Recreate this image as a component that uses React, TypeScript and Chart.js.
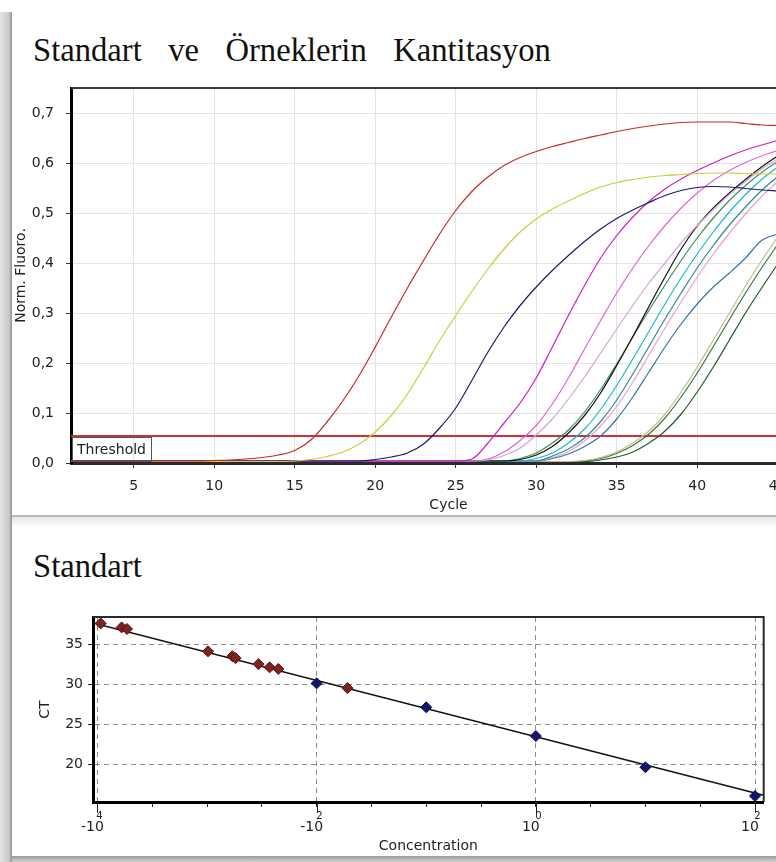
import React, { useEffect, useRef } from 'react';
import { Chart, registerables } from 'chart.js';

Chart.register(...registerables);

const FONT = "'DejaVu Sans', 'Liberation Sans', sans-serif";
const SERIF = "'Liberation Serif', 'DejaVu Serif', serif";

// ---------------- Amplification plot data ----------------
const cycles = [
  1, 2, 3, 4, 5, 6, 7, 8, 9, 10,
  11, 12, 13, 14, 15, 16, 17, 18, 19, 20,
  21, 22, 23, 24, 25, 26, 27, 28, 29, 30,
  31, 32, 33, 34, 35, 36, 37, 38, 39, 40,
  41, 42, 43, 44, 45,
];

const curveRed = [
  0.004, 0.004, 0.004, 0.004, 0.004, 0.004, 0.004, 0.004, 0.004, 0.005,
  0.006, 0.008, 0.011, 0.016, 0.025, 0.046, 0.082, 0.125, 0.175, 0.232,
  0.292, 0.35, 0.405, 0.458, 0.505, 0.543, 0.572, 0.595, 0.611, 0.623,
  0.633, 0.641, 0.649, 0.656, 0.663, 0.669, 0.674, 0.678, 0.681, 0.682,
  0.682, 0.682, 0.679, 0.676, 0.675,
];
const curveYellow = [
  0.003, 0.003, 0.003, 0.003, 0.003, 0.003, 0.003, 0.003, 0.003, 0.003,
  0.003, 0.003, 0.003, 0.003, 0.004, 0.007, 0.013, 0.022, 0.038, 0.062,
  0.095, 0.138, 0.19, 0.245, 0.295, 0.343, 0.388, 0.428, 0.462, 0.488,
  0.508, 0.524, 0.539, 0.552, 0.561, 0.567, 0.572, 0.575, 0.577, 0.579,
  0.58, 0.58, 0.579, 0.578, 0.578,
];
const curveNavy = [
  0.004, 0.004, 0.004, 0.004, 0.004, 0.004, 0.004, 0.004, 0.004, 0.004,
  0.004, 0.004, 0.004, 0.004, 0.004, 0.004, 0.004, 0.004, 0.004, 0.007,
  0.012, 0.02, 0.038, 0.07, 0.11, 0.165, 0.222, 0.272, 0.315, 0.352,
  0.385, 0.415, 0.443, 0.468, 0.489, 0.506, 0.521, 0.535, 0.545, 0.551,
  0.553, 0.552, 0.549, 0.546, 0.544,
];
const curveMagenta = [
  0.004, 0.004, 0.004, 0.004, 0.004, 0.004, 0.004, 0.004, 0.004, 0.004,
  0.004, 0.004, 0.004, 0.004, 0.004, 0.004, 0.004, 0.004, 0.004, 0.004,
  0.004, 0.004, 0.004, 0.004, 0.004, 0.008, 0.04, 0.08, 0.12, 0.17,
  0.232, 0.295, 0.355, 0.41, 0.455, 0.492, 0.523, 0.548, 0.568, 0.585,
  0.6, 0.614, 0.626, 0.636, 0.645,
];
const curvePink = [
  0.004, 0.004, 0.004, 0.004, 0.004, 0.004, 0.004, 0.004, 0.004, 0.004,
  0.004, 0.004, 0.004, 0.004, 0.004, 0.004, 0.004, 0.004, 0.004, 0.004,
  0.004, 0.004, 0.004, 0.004, 0.004, 0.004, 0.008, 0.022, 0.045, 0.075,
  0.118, 0.17, 0.228, 0.285, 0.34, 0.39, 0.435, 0.475, 0.51, 0.54,
  0.565, 0.585, 0.601, 0.614, 0.625,
];
const curveOrchid = [
  0.004, 0.004, 0.004, 0.004, 0.004, 0.004, 0.004, 0.004, 0.004, 0.004,
  0.004, 0.004, 0.004, 0.004, 0.004, 0.004, 0.004, 0.004, 0.004, 0.004,
  0.004, 0.004, 0.004, 0.004, 0.004, 0.004, 0.006, 0.015, 0.03, 0.056,
  0.088, 0.128, 0.172, 0.22, 0.268, 0.315, 0.36, 0.4, 0.44, 0.475,
  0.507, 0.537, 0.563, 0.588, 0.608,
];
const curveBlack = [
  0.004, 0.004, 0.004, 0.004, 0.004, 0.004, 0.004, 0.004, 0.004, 0.004,
  0.004, 0.004, 0.004, 0.004, 0.004, 0.004, 0.004, 0.004, 0.004, 0.004,
  0.004, 0.004, 0.004, 0.004, 0.004, 0.004, 0.004, 0.004, 0.007, 0.016,
  0.033, 0.06, 0.095, 0.14, 0.195, 0.253, 0.313, 0.372, 0.428, 0.474,
  0.51, 0.54, 0.567, 0.592, 0.614,
];
const curveGreen = [
  0.004, 0.004, 0.004, 0.004, 0.004, 0.004, 0.004, 0.004, 0.004, 0.004,
  0.004, 0.004, 0.004, 0.004, 0.004, 0.004, 0.004, 0.004, 0.004, 0.004,
  0.004, 0.004, 0.004, 0.004, 0.004, 0.004, 0.004, 0.004, 0.009, 0.02,
  0.04, 0.066, 0.102, 0.147, 0.198, 0.252, 0.305, 0.356, 0.405, 0.45,
  0.49, 0.525, 0.555, 0.581, 0.603,
];
const curveCyan = [
  0.004, 0.004, 0.004, 0.004, 0.004, 0.004, 0.004, 0.004, 0.004, 0.004,
  0.004, 0.004, 0.004, 0.004, 0.004, 0.004, 0.004, 0.004, 0.004, 0.004,
  0.004, 0.004, 0.004, 0.004, 0.004, 0.004, 0.004, 0.004, 0.004, 0.009,
  0.02, 0.04, 0.068, 0.107, 0.155, 0.208, 0.263, 0.318, 0.37, 0.418,
  0.462, 0.502, 0.537, 0.567, 0.592,
];
const curveTeal = [
  0.004, 0.004, 0.004, 0.004, 0.004, 0.004, 0.004, 0.004, 0.004, 0.004,
  0.004, 0.004, 0.004, 0.004, 0.004, 0.004, 0.004, 0.004, 0.004, 0.004,
  0.004, 0.004, 0.004, 0.004, 0.004, 0.004, 0.004, 0.004, 0.004, 0.004,
  0.014, 0.028, 0.05, 0.083, 0.126, 0.178, 0.233, 0.288, 0.34, 0.39,
  0.435, 0.476, 0.512, 0.545, 0.573,
];
const curveRose = [
  0.004, 0.004, 0.004, 0.004, 0.004, 0.004, 0.004, 0.004, 0.004, 0.004,
  0.004, 0.004, 0.004, 0.004, 0.004, 0.004, 0.004, 0.004, 0.004, 0.004,
  0.004, 0.004, 0.004, 0.004, 0.004, 0.004, 0.004, 0.004, 0.004, 0.004,
  0.011, 0.023, 0.044, 0.074, 0.113, 0.162, 0.216, 0.27, 0.322, 0.372,
  0.418, 0.46, 0.498, 0.533, 0.563,
];
const curveSteel = [
  0.004, 0.004, 0.004, 0.004, 0.004, 0.004, 0.004, 0.004, 0.004, 0.004,
  0.004, 0.004, 0.004, 0.004, 0.004, 0.004, 0.004, 0.004, 0.004, 0.004,
  0.004, 0.004, 0.004, 0.004, 0.004, 0.004, 0.004, 0.004, 0.004, 0.004,
  0.009, 0.018, 0.033, 0.054, 0.088, 0.132, 0.182, 0.232, 0.278, 0.318,
  0.352, 0.38, 0.41, 0.445, 0.458,
];
const curveTan = [
  0.003, 0.003, 0.003, 0.003, 0.003, 0.003, 0.003, 0.003, 0.003, 0.003,
  0.003, 0.003, 0.003, 0.003, 0.003, 0.003, 0.003, 0.003, 0.003, 0.003,
  0.003, 0.003, 0.003, 0.003, 0.003, 0.003, 0.003, 0.003, 0.003, 0.003,
  0.003, 0.003, 0.005, 0.011, 0.022, 0.04, 0.064, 0.098, 0.142, 0.192,
  0.246, 0.3, 0.354, 0.405, 0.452,
];
const curveGreen2 = [
  0.003, 0.003, 0.003, 0.003, 0.003, 0.003, 0.003, 0.003, 0.003, 0.003,
  0.003, 0.003, 0.003, 0.003, 0.003, 0.003, 0.003, 0.003, 0.003, 0.003,
  0.003, 0.003, 0.003, 0.003, 0.003, 0.003, 0.003, 0.003, 0.003, 0.003,
  0.003, 0.003, 0.004, 0.009, 0.019, 0.035, 0.058, 0.09, 0.132, 0.18,
  0.233, 0.287, 0.34, 0.39, 0.437,
];
const curveDarkGreen = [
  0.003, 0.003, 0.003, 0.003, 0.003, 0.003, 0.003, 0.003, 0.003, 0.003,
  0.003, 0.003, 0.003, 0.003, 0.003, 0.003, 0.003, 0.003, 0.003, 0.003,
  0.003, 0.003, 0.003, 0.003, 0.003, 0.003, 0.003, 0.003, 0.003, 0.003,
  0.003, 0.003, 0.003, 0.006, 0.012, 0.022, 0.04, 0.064, 0.098, 0.142,
  0.192, 0.246, 0.3, 0.35, 0.398,
];

const curves = [
  curveRed, curveYellow, curveNavy, curveMagenta, curvePink, curveOrchid,
  curveBlack, curveGreen, curveCyan, curveTeal, curveRose, curveSteel,
  curveTan, curveGreen2, curveDarkGreen,
];
const curveColors = [
  '#c42a2a', '#cccc3c', '#1c1c6c', '#d01ec0', '#e064d2', '#d6a2d8',
  '#111111', '#3f8f5c', '#20b8c8', '#2a8c9a', '#e8a2c4', '#3c72a3',
  '#c9b98f', '#2f7d42', '#1f5c30',
];

const thresholdValue = 0.054;
const cycleMin = 1.1;
const cycleMax = 48;
const fluoroMin = 0;
const fluoroMax = 0.75;
const cycleTicks = [5, 10, 15, 20, 25, 30, 35, 40, 45];
const fluoroTicks = [0, 0.1, 0.2, 0.3, 0.4, 0.5, 0.6, 0.7];

// ---------------- Standard curve data ----------------
const standardConc = [0.01, 0.1, 1, 10, 100];
const standardCT = [30.1, 27.1, 23.5, 19.6, 16.0];
const sampleConc = [1.07e-4, 1.66e-4, 1.86e-4, 1.02e-3, 1.7e-3, 1.82e-3, 2.95e-3, 3.72e-3, 4.47e-3, 1.91e-2];
const sampleCT = [37.6, 37.1, 36.9, 34.1, 33.5, 33.25, 32.5, 32.1, 31.9, 29.5];
const fitConc = [9.1e-5, 120];
const fitCT = [37.65, 16.1];
const concMin = 9.1e-5;
const concMax = 120;
const ctMin = 15.25;
const ctMax = 38.4;
const ctTicks = [20, 25, 30, 35];
const concTickExps = [-4, -3.5, -3, -2.5, -2, -1.5, -1, -0.5, 0, 0.5, 1, 1.5, 2];
const concLabelExps = [-4, -2, 0, 2];
const concLabelText = ['-10', '-10', '10', '10'];
const concLabelSup = ['4', '2', '0', '2'];

const expOf = (v: number) => Math.round(Math.log10(v) * 2) / 2;

function AmplificationChart() {
  const ref = useRef<HTMLCanvasElement>(null);
  useEffect(() => {
    const canvas = ref.current;
    if (!canvas) return;
    const framePlugin = {
      id: 'ampFrame',
      afterDatasetsDraw(chart: any) {
        const { ctx, chartArea: a, scales } = chart;
        const ty = scales.y.getPixelForValue(thresholdValue);
        ctx.save();
        ctx.font = `14px ${FONT}`;
        const tw = ctx.measureText('Threshold').width;
        ctx.strokeStyle = '#555';
        ctx.lineWidth = 1;
        ctx.strokeRect(Math.round(a.left) + 1.5, Math.round(ty) + 1.5, Math.round(tw) + 10, Math.round(a.bottom - ty) - 3);
        ctx.fillStyle = '#222';
        ctx.textBaseline = 'middle';
        ctx.textAlign = 'left';
        ctx.fillText('Threshold', a.left + 6, (ty + a.bottom) / 2 + 1);
        ctx.restore();
      },
      afterDraw(chart: any) {
        const { ctx, chartArea: a } = chart;
        ctx.save();
        ctx.strokeStyle = '#3a3a3a';
        ctx.lineWidth = 2;
        ctx.beginPath();
        ctx.moveTo(a.left, a.top);
        ctx.lineTo(a.right, a.top);
        ctx.stroke();
        ctx.restore();
      },
    };

    const datasets: any[] = curves.map((vals, i) => ({
      data: cycles.map((c, j) => ({ x: c, y: vals[j] })),
      borderColor: curveColors[i],
      borderWidth: 1.2,
      pointRadius: 0,
      cubicInterpolationMode: 'monotone',
      fill: false,
    }));
    datasets.push({
      data: [
        { x: cycleMin, y: thresholdValue },
        { x: cycleMax, y: thresholdValue },
      ],
      borderColor: '#c83434',
      borderWidth: 2,
      pointRadius: 0,
      fill: false,
    });

    const chart = new Chart(canvas, {
      type: 'line',
      data: { datasets },
      options: {
        responsive: false,
        animation: false,
        layout: { padding: { top: 88, right: 14, left: 0, bottom: 0 } },
        plugins: { legend: { display: false }, tooltip: { enabled: false } },
        scales: {
          x: {
            type: 'linear',
            min: cycleMin,
            max: cycleMax,
            bounds: 'data',
            afterBuildTicks: (s: any) => {
              s.ticks = cycleTicks.map((v) => ({ value: v }));
            },
            afterFit: (s: any) => {
              s.height = 57;
            },
            grid: { color: '#e3e3e3', lineWidth: 1, tickColor: '#333', tickLength: 5 },
            border: { color: '#2a2a2a', width: 3 },
            ticks: {
              font: { family: FONT, size: 14 },
              color: '#222',
              padding: 10,
              maxRotation: 0,
              autoSkip: false,
              callback: (v: any) => String(v),
            },
            title: {
              display: true,
              text: 'Cycle',
              font: { family: FONT, size: 14 },
              color: '#222',
              padding: { top: 0, bottom: 6 },
            },
          },
          y: {
            type: 'linear',
            min: fluoroMin,
            max: fluoroMax,
            bounds: 'data',
            afterBuildTicks: (s: any) => {
              s.ticks = fluoroTicks.map((v) => ({ value: v }));
            },
            afterFit: (s: any) => {
              s.width = 71;
            },
            grid: { color: '#e3e3e3', lineWidth: 1, tickColor: '#333', tickLength: 5 },
            border: { color: '#000', width: 3 },
            ticks: {
              font: { family: FONT, size: 14 },
              color: '#222',
              padding: 12,
              callback: (v: any) => Number(v).toFixed(1).replace('.', ','),
            },
            title: {
              display: true,
              text: 'Norm. Fluoro.',
              font: { family: FONT, size: 14 },
              color: '#222',
              padding: { top: 13, bottom: 0 },
            },
          },
        },
      } as any,
      plugins: [framePlugin],
    });
    return () => chart.destroy();
  }, []);
  return (
    <canvas
      ref={ref}
      width={840}
      height={520}
      style={{ position: 'absolute', left: 0, top: 0, width: 840, height: 520 }}
    />
  );
}

function StandardChart() {
  const ref = useRef<HTMLCanvasElement>(null);
  useEffect(() => {
    const canvas = ref.current;
    if (!canvas) return;
    const stdPlugin = {
      id: 'stdFrame',
      afterDraw(chart: any) {
        const { ctx, chartArea: a, scales } = chart;
        ctx.save();
        ctx.strokeStyle = '#2a2a2a';
        ctx.lineWidth = 2;
        ctx.beginPath();
        ctx.moveTo(a.left, a.top);
        ctx.lineTo(a.right, a.top);
        ctx.lineTo(a.right, a.bottom);
        ctx.stroke();
        ctx.strokeStyle = '#222';
        ctx.lineWidth = 1;
        ctx.fillStyle = '#222';
        ctx.font = `10px ${FONT}`;
        ctx.textAlign = 'center';
        ctx.textBaseline = 'middle';
        concLabelExps.forEach((e, i) => {
          const x = Math.round(scales.x.getPixelForValue(Math.pow(10, e))) + 0.5;
          ctx.beginPath();
          ctx.moveTo(x, a.bottom);
          ctx.lineTo(x, a.bottom + 11);
          ctx.stroke();
          ctx.fillText(concLabelSup[i], x + 2, a.bottom + 14);
        });
        ctx.restore();
      },
    };

    const isLabelTick = (v: number) => concLabelExps.indexOf(expOf(v)) >= 0;

    const chart = new Chart(canvas, {
      type: 'scatter',
      data: {
        datasets: [
          {
            data: standardConc.map((c, i) => ({ x: c, y: standardCT[i] })),
            pointStyle: 'rectRot',
            pointRadius: 5.5,
            backgroundColor: '#15156e',
            borderColor: '#0b0b45',
            borderWidth: 1,
            showLine: false,
            order: 0,
            clip: false,
          },
          {
            data: sampleConc.map((c, i) => ({ x: c, y: sampleCT[i] })),
            pointStyle: 'rectRot',
            pointRadius: 5.5,
            backgroundColor: '#7e2222',
            borderColor: '#4d1010',
            borderWidth: 1,
            showLine: false,
            order: 1,
            clip: false,
          },
          {
            data: fitConc.map((c, i) => ({ x: c, y: fitCT[i] })),
            showLine: true,
            borderColor: '#111',
            borderWidth: 1.5,
            pointRadius: 0,
            order: 2,
          },
        ],
      },
      options: {
        responsive: false,
        animation: false,
        layout: { padding: { top: 17, right: 4, left: 0, bottom: 0 } },
        plugins: { legend: { display: false }, tooltip: { enabled: false } },
        scales: {
          x: {
            type: 'logarithmic',
            min: concMin,
            max: concMax,
            bounds: 'data',
            afterBuildTicks: (s: any) => {
              s.ticks = concTickExps.map((e) => ({ value: Math.pow(10, e) }));
            },
            afterFit: (s: any) => {
              s.height = 60;
            },
            grid: {
              color: (ctx: any) =>
                ctx.tick && isLabelTick(ctx.tick.value) ? '#8c8c8c' : 'rgba(0,0,0,0)',
              lineWidth: 1,
              tickColor: '#222',
              tickLength: 5,
            },
            border: { color: '#000', width: 3, dash: [5, 4] },
            ticks: {
              font: { family: FONT, size: 14 },
              color: '#222',
              padding: 12,
              labelOffset: -5,
              maxRotation: 0,
              autoSkip: false,
              callback: (v: any) => {
                const idx = concLabelExps.indexOf(expOf(Number(v)));
                return idx >= 0 ? concLabelText[idx] : '';
              },
            },
            title: {
              display: true,
              text: 'Concentration',
              font: { family: FONT, size: 14 },
              color: '#222',
              padding: { top: 0, bottom: 7 },
            },
          },
          y: {
            type: 'linear',
            min: ctMin,
            max: ctMax,
            bounds: 'data',
            afterBuildTicks: (s: any) => {
              s.ticks = ctTicks.map((v) => ({ value: v }));
            },
            afterFit: (s: any) => {
              s.width = 93;
            },
            grid: { color: '#8c8c8c', lineWidth: 1, tickColor: '#222', tickLength: 5 },
            border: { color: '#000', width: 3, dash: [5, 4] },
            ticks: {
              font: { family: FONT, size: 14 },
              color: '#222',
              padding: 5,
              callback: (v: any) => String(v),
            },
            title: {
              display: true,
              text: 'CT',
              font: { family: FONT, size: 14 },
              color: '#222',
              padding: { top: 37, bottom: 0 },
            },
          },
        },
      } as any,
      plugins: [stdPlugin],
    });
    return () => chart.destroy();
  }, []);
  return (
    <canvas
      ref={ref}
      width={776}
      height={262}
      style={{ position: 'absolute', left: 0, top: 600, width: 776, height: 262 }}
    />
  );
}

const titleStyle: React.CSSProperties = {
  position: 'absolute',
  left: 33,
  fontFamily: SERIF,
  fontSize: 34,
  lineHeight: '34px',
  whiteSpace: 'pre',
  wordSpacing: '19px',
  color: '#111',
  transform: 'scaleX(0.96)',
  transformOrigin: 'left top',
};

export default function App() {
  return (
    <div
      style={{
        position: 'fixed',
        left: 0,
        top: 0,
        width: 776,
        height: 862,
        overflow: 'hidden',
        background: '#ffffff',
      }}
    >
      <div style={{ position: 'absolute', left: 0, top: 12, width: 12, height: 850, background: 'linear-gradient(to right, #e4e4e4, #c9c9c9 75%, #8e8e8e)' }} />
      <div style={{ position: 'absolute', left: 12, top: 515, width: 764, height: 2, background: '#b8b8b8' }} />
      <div style={{ position: 'absolute', left: 12, top: 517, width: 764, height: 10, background: 'linear-gradient(#e6e6e6, #ffffff)' }} />
      <div style={{ position: 'absolute', left: 12, top: 856, width: 764, height: 6, background: 'linear-gradient(#9a9a9a, #d2d2d2)' }} />
      <div style={{ ...titleStyle, top: 33 }}>Standart ve Örneklerin Kantitasyon</div>
      <div style={{ ...titleStyle, top: 549 }}>Standart</div>
      <AmplificationChart />
      <StandardChart />
    </div>
  );
}
